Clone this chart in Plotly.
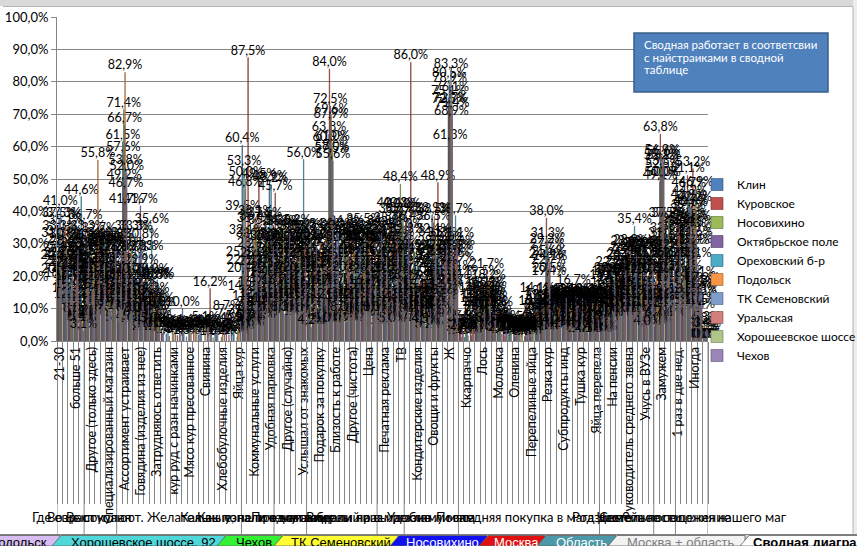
import plotly.graph_objects as go

N = None

series_names = ["Клин", "Куровское", "Носовихино", "Октябрьское поле", "Ореховский б-р",
                "Подольск", "ТК Семеновский", "Уральская", "Хорошеевское шоссе", "Чехов"]

klin = [24.5, 37.3, 20.8, 13.2, 4.7, 28.0, 12.5, 21.4, 30.0, 10.0,
        25.0, 15.6, 61.5, 18.2, 9.1, 27.3, 4.5, 12.5, 8.9, N,
        2.2, N, N, 10.0, N, N, 1.9, N, N, 3.0,
        N, N, 7.3, N, 60.4, 7.5, 31.3, 15.6, 27.7, 48.9,
        12.8, 29.8, 8.5, 21.3, 14.9, 34.0, 10.6, 25.5, 6.4, 19.1,
        63.8, 23.4, 8.5, 29.8, 17.0, 31.9, 12.8, 27.7, 4.3, 21.3,
        10.6, 29.8, 40.4, 17.0, 34.0, 6.4, 22.7, 13.8, 5.3, 38.9,
        10.2, 25.6, 75.1, 24.9, 2.2, 1.1, N, 9.8, 12.5, 15.6,
        6.3, 3.1, N, 4.2, N, 2.7, N, 5.1, 7.8, 11.9,
        24.8, 8.3, 4.2, 10.5, 6.7, 13.0, 2.6, 9.9, 5.7, 12.2,
        6.5, 14.0, 20.4, 9.7, 17.2, 26.9, 11.8, 22.6, 8.6, 16.1,
        4.3, 49.1, 31.2, 12.9, 29.0, 19.4, 38.7, 29.0, 16.1, 0.0]

kurovskoe = [20.0, 31.9, 14.3, 22.9, 11.4, 36.7, 7.1, 26.3, 15.8, 29.2,
             18.8, 10.0, 57.6, 28.0, 4.0, 16.0, 10.0, 7.3, 18.3, 3.3,
             N, N, 1.7, N, N, 2.9, N, N, 16.2, N,
             N, 8.7, N, 1.3, 39.5, 87.5, 9.4, 49.5, 12.5, 20.3,
             45.7, 16.9, 27.1, 10.2, 33.3, 22.0, 15.3, 30.5, 8.5, 23.7,
             84.0, 11.9, 27.1, 5.1, 32.2, 8.5, 20.3, 33.9, 15.3, 25.4,
             6.8, 18.6, 30.5, 40.3, 11.9, 86.0, 17.9, 8.8, 12.3, 27.3,
             48.9, 21.1, 72.5, 27.5, 5.6, N, 2.4, 14.3, 19.5, 21.7,
             4.3, 8.7, 2.2, N, 3.3, N, 1.4, 3.0, 10.2, 5.8,
             38.0, 11.5, 7.7, 3.8, 12.3, 16.7, 9.0, 4.9, 13.1, 2.2,
             10.0, 8.3, 15.0, 19.6, 7.1, 28.6, 21.4, 12.5, 25.0, 5.4,
             17.9, 63.8, 37.5, 10.0, 31.9, 12.8, 51.1, 53.2, 19.1, 2.1]

nosovikhino = [31.3, 26.5, 18.4, 12.2, 6.1, 24.5, 30.6, 17.6, 22.2, 13.3,
               27.5, 20.0, 71.4, 14.3, 14.3, 7.1, 2.4, 18.3, 4.4, N,
               N, 4.1, N, N, 3.3, N, N, 5.1, N, N,
               1.2, N, N, 3.1, 25.3, 5.0, 35.7, 8.3, 37.5, 13.0,
               26.1, 34.8, 17.4, 8.7, 21.7, 30.4, 13.0, 4.3, 26.1, 17.4,
               60.9, 21.7, 8.7, 34.8, 13.0, 26.1, 30.4, 8.7, 21.7, 17.4,
               34.8, 13.0, 26.1, 48.4, 8.7, 21.7, 13.0, 4.3, 10.0, 32.4,
               15.0, 19.5, 80.5, 19.5, N, 3.3, N, 7.3, 10.0, 12.2,
               9.8, 4.9, N, 1.8, N, 4.4, N, 2.0, 6.3, 8.5,
               29.2, 5.6, 11.1, 8.3, 3.5, 10.2, 12.5, 6.1, 3.3, 9.4,
               3.2, 18.2, 11.9, 14.5, 22.6, 19.4, 8.1, 27.4, 14.5, 24.2,
               9.7, 55.2, 28.4, 16.4, 25.4, 34.3, 42.9, 36.5, 11.1, 4.8]

oktyabrskoe = [37.5, 29.2, 16.7, 10.4, 6.3, 30.2, 21.9, 11.1, 27.8, 8.3,
               30.0, 5.4, 49.2, 24.6, 12.3, 41.7, 8.3, 20.0, 11.1, 2.4,
               N, N, N, 2.4, N, N, 3.3, N, N, 1.7,
               N, N, N, N, 22.8, 6.1, 28.0, 12.0, 35.3, 16.7,
               8.3, 25.0, 30.6, 13.9, 27.8, 19.4, 33.3, 8.3, 22.2, 11.1,
               72.5, 30.6, 13.9, 5.6, 25.0, 16.7, 8.3, 30.6, 19.4, 11.1,
               27.8, 5.6, 34.3, 22.2, 38.9, 16.7, 10.5, 19.3, 7.0, 36.5,
               9.3, 31.1, 78.9, 21.1, 3.0, N, 1.7, 11.1, 14.6, 9.4,
               3.1, N, 4.1, N, 2.9, N, 3.6, 1.1, 4.2, 13.2,
               27.7, 9.1, 5.5, 12.7, 7.2, 4.5, 11.3, 13.9, 2.7, 8.4,
               8.1, 10.8, 18.9, 6.8, 24.3, 21.6, 14.9, 8.1, 28.4, 12.2,
               17.6, 50.0, 22.4, 27.6, 36.2, 17.2, 39.7, 32.8, 13.8, 0.0]

orekhovsky = [33.3, 22.2, 22.2, 16.7, 44.6, 19.0, 16.2, 28.6, 14.3, 23.5,
              11.1, 18.2, 66.7, 8.3, 33.3, 12.5, 27.3, 35.6, 18.9, N,
              3.3, N, N, N, 4.4, N, N, N, 2.0, N,
              N, N, 4.9, N, 53.3, 11.7, 16.2, 30.8, 22.6, 48.2,
              9.7, 19.4, 25.8, 32.3, 12.9, 56.0, 16.1, 22.6, 9.7, 29.0,
              67.9, 19.4, 32.3, 12.9, 6.5, 25.8, 35.5, 16.1, 9.7, 29.0,
              12.9, 22.6, 38.7, 9.7, 32.3, 12.9, 25.8, 9.7, 3.2, 24.0,
              27.3, 18.3, 61.3, 38.7, N, 2.4, N, 5.6, 16.1, 14.3,
              7.1, 2.4, N, 3.5, 1.2, N, 2.1, N, 14.1, 3.6,
              31.3, 13.9, 2.8, 9.2, 11.1, 6.8, 4.3, 12.4, 7.6, 3.0,
              12.2, 5.5, 22.2, 11.1, 16.7, 13.9, 35.4, 19.4, 8.3, 25.0,
              13.9, 56.9, 32.8, 6.9, 29.3, 15.5, 46.7, 25.1, 15.5, 3.4]

podolsk = [27.0, 35.1, 12.5, 18.9, 6.8, 26.4, 24.3, 55.8, 25.6, 18.6,
           14.0, 23.3, 82.9, 11.4, 5.7, 22.9, 3.0, 14.3, 7.1, N,
           N, 2.4, N, N, N, 3.6, N, N, N, N,
           2.4, N, N, 5.5, 20.4, 4.4, 38.1, 9.5, 19.0, 30.4,
           14.3, 26.2, 7.1, 35.2, 16.7, 28.6, 11.9, 23.8, 31.0, 4.8,
           69.6, 16.7, 9.5, 26.2, 30.9, 11.9, 21.4, 33.3, 7.1, 26.2,
           19.0, 35.7, 14.3, 28.6, 9.5, 22.4, 6.0, 17.9, 9.0, 38.5,
           12.0, 25.5, 72.7, 27.3, 1.1, N, 4.4, 8.3, 9.1, 18.2,
           5.5, 6.1, 1.5, N, N, 3.0, N, 4.6, 8.8, 9.4,
           22.7, 6.3, 10.3, 4.1, 13.5, 8.2, 3.6, 11.8, 1.9, 10.7,
           4.3, 16.1, 9.7, 20.4, 12.9, 25.8, 10.8, 28.0, 18.3, 7.5,
           21.5, 53.3, 26.7, 20.0, 33.3, 24.4, 35.6, 42.2, 13.3, 0.0]

tk_semenovsky = [41.0, 24.0, 19.6, 8.0, 5.4, 33.3, 10.0, 15.0, 29.4, 11.8,
                 20.8, 14.3, 53.8, 15.4, 7.7, 30.8, 5.1, 8.9, 2.4, 4.4,
                 N, N, 3.0, N, N, N, 4.0, N, N, 4.3,
                 N, N, 2.2, N, 14.9, 9.8, 22.6, 18.9, 7.5, 26.4,
                 33.3, 13.2, 28.3, 11.3, 24.5, 18.9, 30.2, 7.5, 20.8, 15.1,
                 57.5, 34.0, 11.3, 5.7, 22.6, 30.2, 9.4, 24.5, 15.1, 32.1,
                 7.5, 20.8, 11.3, 37.7, 26.4, 9.4, 15.1, 6.8, 11.4, 28.7,
                 22.9, 16.7, 83.3, 16.7, N, 5.6, N, 12.5, 11.4, 10.0,
                 2.9, 5.7, N, 2.6, 4.1, N, 1.0, 3.3, 5.0, 12.0,
                 19.4, 12.0, 6.0, 11.8, 4.0, 13.9, 7.3, 3.1, 12.9, 5.5,
                 9.5, 12.3, 17.5, 8.1, 25.0, 15.0, 22.5, 12.5, 27.5, 10.0,
                 5.0, 52.5, 30.0, 17.5, 22.5, 35.0, 44.2, 29.4, 16.3, 2.3]

uralskaya = [22.9, 30.8, 15.4, 25.6, 5.1, 21.6, 18.0, 32.7, 19.2, 28.8,
             12.5, 9.6, 46.7, 26.7, 6.7, 19.6, 13.3, 18.9, 10.0, N,
             1.5, N, N, N, 2.6, N, N, 3.8, N, N,
             N, 1.9, N, N, 46.8, 3.6, 12.8, 24.4, 17.2, 10.3,
             21.9, 30.0, 14.0, 25.0, 8.0, 29.6, 16.0, 22.0, 6.0, 34.0,
             58.0, 26.0, 12.0, 32.0, 14.0, 8.0, 28.0, 20.0, 30.0, 10.0,
             24.0, 16.0, 31.4, 8.0, 24.0, 14.0, 20.0, 10.0, 4.0, 22.0,
             17.9, 27.5, 68.9, 31.1, 4.3, N, 2.8, 6.7, 7.9, 16.1,
             8.1, N, 3.2, N, 1.6, N, 2.3, N, 9.1, 2.5,
             25.6, 7.7, 12.8, 5.1, 9.6, 11.4, 2.0, 10.0, 6.0, 12.7,
             2.6, 19.4, 13.2, 15.8, 10.5, 28.9, 7.9, 21.1, 13.2, 25.0,
             11.8, 56.6, 25.0, 10.5, 35.5, 21.1, 36.8, 31.6, 10.5, 5.3]

khoroshevskoe = [25.0, 28.6, 17.9, 21.4, 7.1, 29.2, 23.5, 20.0, 31.3, 13.3,
                 27.3, 16.7, 41.7, 33.3, 16.7, 8.3, 4.3, 10.0, 5.9, N,
                 N, N, 2.0, N, N, 3.3, N, N, 1.0, N,
                 N, N, N, 2.9, 50.0, 8.2, 36.4, 6.1, 30.3, 23.1,
                 12.5, 35.0, 20.0, 15.0, 27.5, 10.0, 32.5, 17.5, 22.5, 5.0,
                 61.0, 25.0, 30.0, 7.5, 27.5, 15.0, 32.5, 10.0, 22.5, 17.5,
                 30.0, 5.0, 25.0, 40.0, 12.5, 27.5, 8.0, 13.0, 6.5, 31.5,
                 7.5, 14.7, 76.1, 23.9, N, 1.6, N, 10.0, 13.3, 11.8,
                 4.4, 3.6, N, 4.0, N, 1.9, N, 2.6, 6.7, 10.8,
                 20.5, 10.3, 3.5, 7.6, 12.0, 3.9, 8.6, 5.0, 11.6, 1.8,
                 7.9, 9.7, 20.0, 12.0, 8.0, 24.0, 16.0, 28.0, 4.0, 20.0,
                 12.0, 50.0, 37.5, 12.5, 25.0, 18.8, 40.6, 46.9, 9.4, 0.0]

chekhov = [18.8, 25.0, 21.9, 28.1, 3.1, 25.5, 15.4, 23.1, 17.9, 9.1,
           30.8, 26.9, 52.0, 20.0, 8.0, 12.0, 11.1, 5.0, 3.3, N,
           N, 3.8, N, 1.3, N, N, N, 4.2, N, N,
           2.5, N, N, 6.0, 32.1, 5.7, 25.0, 11.1, 20.8, 29.2,
           16.7, 8.3, 33.3, 12.5, 20.8, 25.0, 4.2, 29.2, 16.7, 12.5,
           55.6, 33.3, 8.3, 20.8, 12.5, 29.2, 16.7, 25.0, 8.3, 33.3,
           20.8, 12.5, 27.3, 18.2, 36.4, 9.1, 15.0, 4.5, 10.0, 26.1,
           13.6, 30.0, 71.4, 28.6, 2.7, N, 3.3, 4.8, 8.7, 13.0,
           10.0, 2.2, 5.6, N, 2.5, N, 3.1, N, 3.5, 7.1,
           24.1, 4.2, 9.0, 13.3, 5.2, 10.7, 13.1, 2.4, 8.3, 6.4,
           11.4, 6.7, 16.7, 10.0, 21.7, 13.3, 26.7, 10.0, 20.0, 23.3,
           6.7, 55.2, 20.7, 24.1, 27.6, 13.8, 41.4, 34.5, 17.2, 3.4]

series_values = [klin, kurovskoe, nosovikhino, oktyabrskoe, orekhovsky,
                 podolsk, tk_semenovsky, uralskaya, khoroshevskoe, chekhov]

# visible category labels (every third category)
cat_labels = ["21-30", "больше 51", "Другое (только здесь)", "Специализированный магазин",
              "Ассортимент устраивает", "Говядина (изделия из нее)", "Затрудняюсь ответить",
              "кур руд с разн начинками", "Мясо кур пресованное", "Свинина",
              "Хлебобулочные изделия", "Яйца кур", "Коммунальные услуги", "Удобная парковка",
              "Другое (случайно)", "Услышал от знакомых", "Подарок за покупку",
              "Близость к работе", "Другое (чистота)", "Цена", "Печатная реклама", "ТВ",
              "Кондитерские изделия", "Овощи и фрукты", "Ж", "Ккарпаччо", "Лось", "Молочка",
              "Оленина", "Перепелиные яйца", "Резка кур", "Субпродукты инд", "Тушка кур",
              "Яйца перепела", "На пенсии", "Руководитель среднего звена", "Учусь в ВУЗе",
              "Замужем", "1 раз в две нед.", "Иногда"]
label_step = 3

# second-level (question) groups: name, first category, end category
group_names = ["Возраст", "Выступают",
               "Где еще покупают. Желательные, не предлагаем",
               "Как вы узнали о магазине", "Как попали к нам в первый раз",
               "Почему выбрали наш магазин", "Видели ли вы рекламу мяса", "Удобно ли вам",
               "Последняя покупка в магазине", "Род деятельности", "Семейное положение",
               "Частота посещения нашего маг"]
group_bounds = [0, 5, 11, 34, 40, 46, 59, 64, 74, 100, 110, 114, 120]

sheet_tabs = ["Подольск", "Хорошевское шоссе, 92", "Чехов", "ТК Семеновский", "Носовихино",
              "Москва", "Область", "Москва + область", "Сводная диаграмма"]

note_lines = ["Сводная работает в соответсвии", "с найстраиками в сводной", "таблице"]

fills = ["#4F81BD", "#C0504D", "#9BBB59", "#8064A2", "#4BACC6",
         "#F79646", "#7F9DCB", "#D27F7D", "#AFC68A", "#9A87B8"]
edges = ["#2F4D71", "#73302E", "#5D7035", "#4D3C61", "#2D6777",
         "#94592A", "#4C5E7B", "#7E4C4B", "#697752", "#5C5170"]

W, H = 857, 546
L, R, T, B = 57, 149, 17, 205
PW, PH = W - L - R, H - T - B


def px(xp):
    return (xp - L) / PW


def py(yp):
    return (H - B - yp) / PH


FONT = "Lato"
fig = go.Figure()
ncat = len(klin)
for name, vals, fc, ec in zip(series_names, series_values, fills, edges):
    fig.add_trace(go.Bar(
        name=name,
        x=list(range(len(vals))),
        y=vals,
        text=[None if v is None else ("%.1f%%" % v).replace(".", ",") for v in vals],
        textposition="outside",
        constraintext="none",
        cliponaxis=False,
        textfont=dict(family=FONT, size=12.5, color="#000000"),
        marker=dict(color=fc, line=dict(color=ec, width=0.6)),
        legendgroup=name,
    ))

shapes = []
annotations = []

# window frame / chart area border
shapes.append(dict(type="rect", xref="paper", yref="paper", x0=px(0), x1=px(W), y0=py(0), y1=py(6),
                   fillcolor="#D9D9D9", line=dict(width=0), layer="below"))
shapes.append(dict(type="rect", xref="paper", yref="paper", x0=px(853), x1=px(W), y0=py(0), y1=py(535),
                   fillcolor="#EDEDED", line=dict(width=0), layer="below"))
shapes.append(dict(type="line", xref="paper", yref="paper", x0=px(3), x1=px(853), y0=py(6.5), y1=py(6.5),
                   line=dict(color="#B4B4B4", width=1)))
shapes.append(dict(type="line", xref="paper", yref="paper", x0=px(853), x1=px(853), y0=py(6.5), y1=py(534),
                   line=dict(color="#B4B4B4", width=1)))

# group separator lines
for b in group_bounds:
    shapes.append(dict(type="line", xref="x", yref="paper", x0=b - 0.5, x1=b - 0.5,
                       y0=0, y1=py(534), line=dict(color="#868686", width=1)))
# group labels
for name, a, b in zip(group_names, group_bounds[:-1], group_bounds[1:]):
    annotations.append(dict(x=(a + b - 1) / 2, xref="x", y=py(517), yref="paper",
                            text=name, showarrow=False, xanchor="center", yanchor="middle",
                            font=dict(family=FONT, size=13, color="#000000")))

# note box
shapes.append(dict(type="rect", xref="paper", yref="paper", x0=px(634), x1=px(828), y0=py(92), y1=py(33),
                   fillcolor="#4F81BD", line=dict(color="#385D8A", width=1.5)))
for i, line in enumerate(note_lines):
    annotations.append(dict(x=px(642), xref="paper", y=py(44 + 13 * i), yref="paper", text=line,
                            showarrow=False, xanchor="left", yanchor="middle",
                            font=dict(family=FONT, size=11.5, color="#FFFFFF")))

# sheet tab strip
shapes.append(dict(type="rect", xref="paper", yref="paper", x0=px(0), x1=px(W), y0=py(H), y1=py(534),
                   fillcolor="#D4D0C8", line=dict(width=0)))
shapes.append(dict(type="line", xref="paper", yref="paper", x0=px(0), x1=px(W), y0=py(534.5), y1=py(534.5),
                   line=dict(color="#808080", width=1)))
tab_x = [(-20, 60), (52, 225), (217, 282), (274, 398), (390, 487), (479, 545), (537, 616), (608, 745), (740, 880)]
tab_fill = ["#D7BDF2", "#4FD8DA", "#33F233", "#FFFF33", "#1010F0", "#E01010", "#4A98A8", "#F2F2F2", "#FFFFFF"]
tab_text = ["#000000", "#000000", "#000000", "#000000", "#FFFFFF", "#FFFFFF", "#FFFFFF", "#7F7F7F", "#000000"]
for (x0, x1), fc in zip(tab_x, tab_fill):
    path = "M %f %f L %f %f L %f %f L %f %f Z" % (px(x0), py(546), px(x0 + 9), py(535.5),
                                                  px(x1), py(535.5), px(x1), py(546))
    shapes.append(dict(type="path", xref="paper", yref="paper", path=path, fillcolor=fc,
                       line=dict(color="#606060", width=0.8)))
for i, (name, (x0, x1), tc) in enumerate(zip(sheet_tabs, tab_x, tab_text)):
    cx = (x0 + 9 + x1) / 2
    if i == 0:
        cx = 18
    if i == len(sheet_tabs) - 1:
        cx = 818
    annotations.append(dict(x=px(cx), xref="paper", y=py(542), yref="paper", text=name,
                            showarrow=False, xanchor="center", yanchor="middle",
                            font=dict(family="Liberation Sans", size=13, color=tc,
                                      weight=("bold" if i == len(sheet_tabs) - 1 else "normal"))))

fig.update_layout(
    width=W, height=H,
    margin=dict(l=L, r=R, t=T, b=B, pad=0, autoexpand=False),
    paper_bgcolor="#FFFFFF", plot_bgcolor="#FFFFFF",
    barmode="group", bargap=0.2, bargroupgap=0,
    separators=", ",
    font=dict(family=FONT, size=13, color="#000000"),
    showlegend=True,
    legend=dict(x=px(697), xanchor="left", y=py(170), yanchor="top",
                font=dict(family=FONT, size=12, color="#000000"),
                bgcolor="rgba(0,0,0,0)", itemwidth=30, tracegroupgap=2, traceorder="normal"),
    shapes=shapes,
    annotations=annotations,
    xaxis=dict(range=[-0.5, ncat - 0.5], tickmode="array", automargin=False,
               tickvals=list(range(0, ncat, label_step)), ticktext=cat_labels,
               tickangle=-90, ticks="", showline=True, linecolor="#868686", linewidth=1,
               showgrid=False, zeroline=False,
               tickfont=dict(family=FONT, size=12.5, color="#000000"),
               minor=dict(tickmode="linear", tick0=-0.5, dtick=1, ticks="outside",
                          ticklen=162, tickcolor="#868686", tickwidth=1, showgrid=False)),
    yaxis=dict(range=[0, 100], dtick=10, tickformat=".1f", ticksuffix="%", automargin=False,
               showline=True, linecolor="#868686", linewidth=1, ticks="outside", ticklen=5,
               tickcolor="#868686", gridcolor="#868686", gridwidth=1, zeroline=False,
               tickfont=dict(family=FONT, size=13, color="#000000")),
)

fig.write_html("out.html", config={"displayModeBar": False},
               post_script="document.body.style.margin='0';document.body.style.overflow='hidden';")
